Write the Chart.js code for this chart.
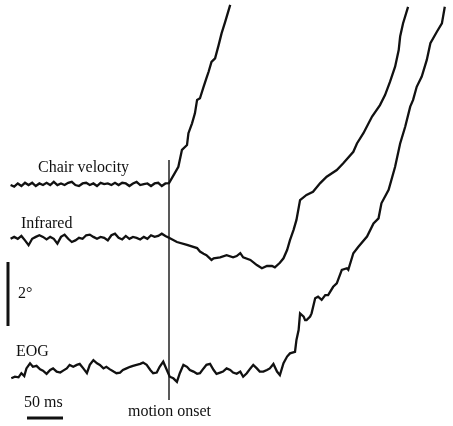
<!DOCTYPE html>
<html>
<head>
<meta charset="utf-8">
<script src="https://cdn.jsdelivr.net/npm/chart.js@4/dist/chart.umd.min.js"></script>
<style>
  html, body { margin: 0; padding: 0; background: #fff; }
  #wrap { width: 453px; height: 426px; }
</style>
</head>
<body>
<div id="wrap"><canvas id="traceChart"></canvas></div>
<script>
// 時間 (ms, motion onset = 0) と角度 (deg) で読み取った値
const chairT = [-220,-215,-210,-205,-200,-195,-190,-185,-180,-175,
                -170,-165,-160,-155,-150,-145,-140,-135,-130,-125,
                -120,-115,-110,-105,-100,-95,-90,-85,-80,-75,
                -70,-65,-60,-55,-50,-45,-40,-35,-30,-25,
                -20,-15,-10,-5,0,
                8,13,18,25,27,32,36,39,43,48,52,55,59,64,69,73,78,85];
const chairDeg = [7.53,7.48,7.58,7.50,7.60,7.53,7.60,7.50,7.58,7.53,
                  7.60,7.53,7.63,7.53,7.58,7.53,7.60,7.63,7.53,7.50,
                  7.58,7.60,7.53,7.58,7.50,7.60,7.56,7.58,7.53,7.60,
                  7.53,7.60,7.58,7.50,7.58,7.63,7.53,7.56,7.58,7.50,
                  7.58,7.60,7.50,7.58,7.59,
                  7.90,8.10,8.63,8.78,9.15,9.46,9.77,10.19,10.24,10.60,10.87,11.07,11.38,11.49,11.91,12.27,12.63,13.16];

const irT = [-220,-215,-210,-205,-200,-195,-190,-185,-180,-175,
             -170,-165,-160,-155,-150,-145,-140,-135,-130,-125,
             -120,-115,-110,-105,-100,-95,-90,-85,-80,-75,
             -70,-65,-60,-55,-50,-45,-40,-35,-30,-25,
             -20,-15,-10,-5,0,
             11,25,39,43,48,52,59,62,71,80,
             89,94,99,103,113,122,129,136,143,147,
             154,159,164,168,173,177,182,191,200,210,
             219,233,242,256,261,270,282,293,300,307,
             314,319,321,325,332];
const irDeg = [5.85,5.91,5.85,5.94,5.80,5.65,5.85,5.91,5.96,5.91,
               5.83,5.91,5.85,5.70,5.91,5.98,5.85,5.75,5.80,5.88,
               5.85,5.96,5.98,5.91,5.85,5.91,5.88,5.80,5.96,6.01,
               5.88,5.83,5.94,5.85,5.91,5.88,5.83,5.91,5.85,5.96,
               5.91,5.94,6.01,5.94,5.88,
               5.75,5.66,5.56,5.45,5.38,5.34,5.19,5.24,5.27,5.34,
               5.27,5.31,5.40,5.27,5.19,5.03,4.93,5.00,5.00,4.96,
               5.10,5.24,5.50,5.81,6.13,6.44,7.06,7.22,7.32,7.59,
               7.79,8.00,8.21,8.57,8.83,9.15,9.67,10.03,10.34,10.76,
               11.23,11.75,12.17,12.58,13.10];

const eogT = [-219,-214,-209,-205,-201,-198,-193,-189,-184,-179,
              -175,-170,-165,-161,-156,-151,-147,-142,-138,-133,
              -128,-124,-119,-114,-110,-105,-100,-96,-91,-87,
              -82,-77,-73,-68,-64,-59,-54,-50,-45,-40,
              -36,-31,-26,-22,-17,-13,-8,-3,1,6,
              11,15,20,25,29,34,39,43,48,52,
              57,62,66,71,75,80,85,89,94,99,
              103,108,113,117,122,126,131,136,140,145,
              150,154,159,164,168,175,177,180,182,187,
              189,191,196,198,203,207,212,217,221,228,
              233,240,247,249,256,263,275,284,291,295,
              305,314,321,328,335,339,344,351,358,363,
              372,379,383];
const eogDeg = [1.49,1.54,1.52,1.65,1.56,1.80,1.96,1.85,1.88,1.77,
                1.73,1.63,1.75,1.80,1.70,1.67,1.73,1.80,1.91,1.85,
                1.91,1.94,1.80,1.65,1.91,2.06,1.96,1.91,1.80,1.85,
                1.77,1.70,1.65,1.67,1.75,1.80,1.85,1.88,1.91,1.94,
                1.98,1.91,1.75,1.65,1.67,1.85,2.01,1.75,1.54,1.49,
                1.38,1.65,1.91,1.85,1.75,1.70,1.63,1.65,1.80,1.91,
                1.94,1.75,1.63,1.67,1.70,1.80,1.75,1.67,1.63,1.70,
                1.54,1.65,1.80,1.91,1.80,1.70,1.70,1.75,1.80,1.94,
                1.70,1.59,1.96,2.17,2.27,2.32,2.69,3.00,3.52,3.42,
                3.31,3.31,3.42,3.52,3.99,4.04,3.94,4.09,4.09,4.35,
                4.46,4.88,4.93,4.88,5.40,5.60,5.92,6.33,6.49,6.96,
                7.38,8.10,8.83,9.35,9.98,10.19,10.60,10.92,11.44,11.96,
                12.32,12.58,13.10];

// スケールバー・motion onset の線（データ単位）
const onsetT = 0;
const onsetRange = [0.81, 8.31];
const degBarT = -223.6;
const degBarRange = [3.125, 5.125];   // 2°
const msBarRange = [-197.2, -147.2];  // 50 ms
const msBarDeg = 0.25;

// 表示範囲
const xRange = [-234.7, 394.4];
const yRange = [0, 13.3125];

const toPts = (ts, vs) => ts.map((t, i) => ({ x: t, y: vs[i] }));

// 文字ラベル（位置はデータ単位）
const textLabels = [
  { text: 'Chair velocity', x: -181.9, y: 8.06, align: 'left' },
  { text: 'Infrared', x: -205.6, y: 6.31, align: 'left' },
  { text: 'EOG', x: -212.5, y: 2.31, align: 'left' },
  { text: '2°', x: -209.7, y: 4.125, align: 'left' },
  { text: '50 ms', x: -201.4, y: 0.72, align: 'left' },
  { text: 'motion onset', x: 0.7, y: 0.44, align: 'center' }
];

const labelPlugin = {
  id: 'textLabels',
  afterDatasetsDraw(chart) {
    const { ctx, scales } = chart;
    ctx.save();
    ctx.fillStyle = '#111';
    ctx.font = '16px "Liberation Serif", "Times New Roman", serif';
    ctx.textBaseline = 'middle';
    textLabels.forEach(l => {
      ctx.textAlign = l.align;
      ctx.fillText(l.text, scales.x.getPixelForValue(l.x), scales.y.getPixelForValue(l.y));
    });
    ctx.restore();
  }
};

const traceStyle = { borderColor: '#111', borderWidth: 2.3, pointRadius: 0, tension: 0, fill: false };

new Chart(document.getElementById('traceChart'), {
  type: 'line',
  data: {
    datasets: [
      { label: 'Chair velocity', data: toPts(chairT, chairDeg), ...traceStyle },
      { label: 'Infrared', data: toPts(irT, irDeg), ...traceStyle },
      { label: 'EOG', data: toPts(eogT, eogDeg), ...traceStyle },
      { label: 'onset', data: [{ x: onsetT, y: onsetRange[0] }, { x: onsetT, y: onsetRange[1] }],
        borderColor: '#222', borderWidth: 1.5, pointRadius: 0 },
      { label: '2deg', data: [{ x: degBarT, y: degBarRange[0] }, { x: degBarT, y: degBarRange[1] }],
        borderColor: '#111', borderWidth: 3, pointRadius: 0 },
      { label: '50ms', data: [{ x: msBarRange[0], y: msBarDeg }, { x: msBarRange[1], y: msBarDeg }],
        borderColor: '#111', borderWidth: 3, pointRadius: 0 }
    ]
  },
  options: {
    responsive: true,
    maintainAspectRatio: false,
    animation: false,
    layout: { padding: 0 },
    scales: {
      x: { type: 'linear', min: xRange[0], max: xRange[1], display: false },
      y: { type: 'linear', min: yRange[0], max: yRange[1], display: false }
    },
    plugins: {
      legend: { display: false },
      tooltip: { enabled: false }
    }
  },
  plugins: [labelPlugin]
});
</script>
</body>
</html>
